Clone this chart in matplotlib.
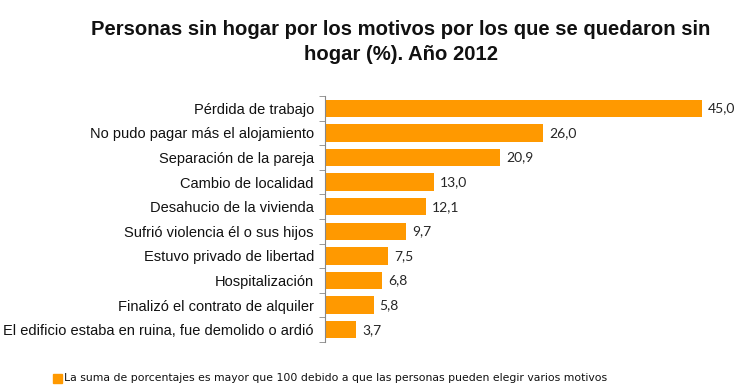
import matplotlib
matplotlib.use("Agg")
import matplotlib.pyplot as plt
from matplotlib.patches import Rectangle
import numpy as np

# Datos del gráfico
motivos = [
    "Pérdida de trabajo",
    "No pudo pagar más el alojamiento",
    "Separación de la pareja",
    "Cambio de localidad",
    "Desahucio de la vivienda",
    "Sufrió violencia él o sus hijos",
    "Estuvo privado de libertad",
    "Hospitalización",
    "Finalizó el contrato de alquiler",
    "El edificio estaba en ruina, fue demolido o ardió",
]
porcentajes = [45.0, 26.0, 20.9, 13.0, 12.1, 9.7, 7.5, 6.8, 5.8, 3.7]

titulo = "Personas sin hogar por los motivos por los que se quedaron sin\nhogar (%). Año 2012"
nota = "La suma de porcentajes es mayor que 100 debido a que las personas pueden elegir varios motivos"

color_barra = "#FF9900"

fig = plt.figure(figsize=(7.4, 3.89), dpi=100)
ax = fig.add_axes([325 / 740, 1 - 342 / 389, 400 / 740, 246 / 389])

y = np.arange(len(motivos))
ax.barh(y, porcentajes, height=0.7, color=color_barra)
ax.set_ylim(len(motivos) - 0.5, -0.5)
ax.set_xlim(0, 47.7)

# Etiquetas de valores con coma decimal
for yi, v in zip(y, porcentajes):
    ax.text(v + 0.7, yi, f"{v:.1f}".replace(".", ","), va="center", ha="left",
            fontsize=10, color="#262626", family="Lato")

ax.set_yticks(y)
ax.set_yticklabels(motivos, fontsize=10.5, family="Liberation Sans", color="#111111")
ax.set_yticks(np.arange(-0.5, len(motivos)), minor=True)
ax.tick_params(axis="y", which="major", length=0, pad=8)
ax.tick_params(axis="y", which="minor", length=4, color="#888888", direction="out")
ax.set_xticks([])
for s in ["top", "right", "bottom"]:
    ax.spines[s].set_visible(False)
ax.spines["left"].set_color("#888888")
ax.spines["left"].set_linewidth(0.8)

fig.text(401 / 740, 1 - 42 / 389, titulo, ha="center", va="center", fontsize=14.6,
         fontweight="bold", family="Liberation Sans", color="#111111", linespacing=1.4)

# Nota al pie con el cuadrito naranja
fig.patches.append(Rectangle((53 / 740, 1 - 383 / 389), 9 / 740, 9 / 389,
                             transform=fig.transFigure, color=color_barra))
fig.text(64 / 740, 1 - 378 / 389, nota, ha="left", va="center", fontsize=7.8,
         family="DejaVu Sans", color="#111111")

fig.savefig("out.png", dpi=100)
